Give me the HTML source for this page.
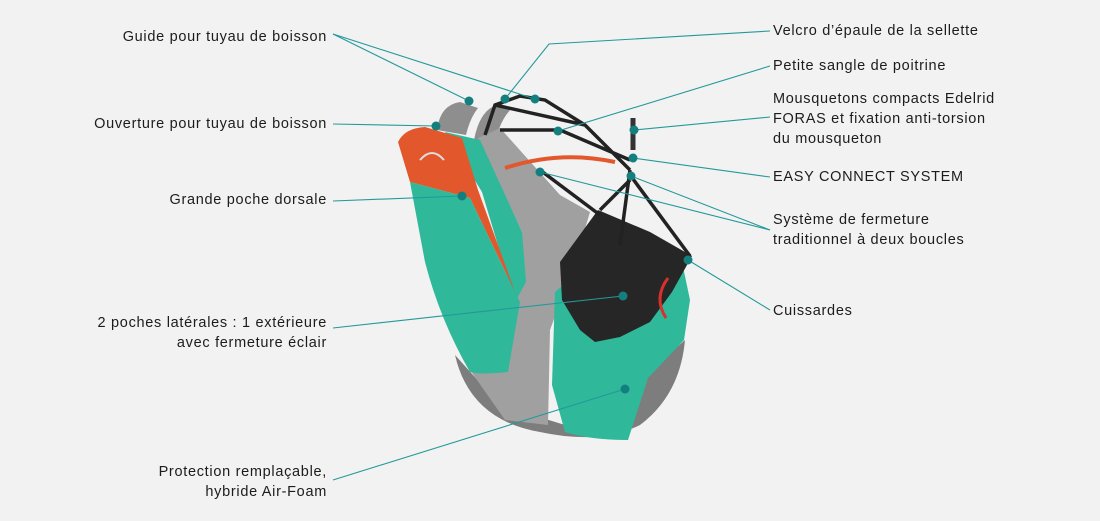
<!DOCTYPE html>
<html><head><meta charset="utf-8"><style>
html,body{margin:0;padding:0;background:#f2f2f2;}
#c{position:relative;width:1100px;height:521px;overflow:hidden;background:#f2f2f2;font-family:"Liberation Sans",sans-serif;font-size:14.5px;letter-spacing:0.7px;color:#1c1c1c;}
.l{position:absolute;line-height:20px;white-space:nowrap;}
.r{text-align:right;right:773px;}
.lt{left:773px;}
svg{position:absolute;left:0;top:0;}
</style></head><body><div id="c">
<svg width="1100" height="521" viewBox="0 0 1100 521">
<!-- shoulder straps -->
<path d="M437,130 Q440,105 460,102 L478,108 Q470,118 466,135 Z" fill="#8e8e8e"/>
<path d="M474,140 Q480,108 500,104 L512,108 Q500,120 496,140 Z" fill="#8e8e8e"/>
<!-- lower grey -->
<path d="M455,355 Q470,420 540,432 Q600,445 640,425 Q680,395 685,340 L640,380 Q620,420 565,425 L500,405 Z" fill="#7d7d7d"/>
<polygon points="478,138 500,128 560,195 590,212 575,262 550,330 548,425 505,420 470,370 510,300 522,232" fill="#a0a0a0"/>
<path d="M555,292 L590,262 612,285 682,262 690,300 684,340 648,378 628,440 Q590,440 565,432 L552,385 Z" fill="#2fb89a"/>
<polygon points="445,132 480,140 522,232 526,282 515,302 482,192" fill="#2fb89a"/>
<path d="M398,142 Q405,128 425,127 L462,138 478,190 515,292 470,198 410,182 Z" fill="#e2572c"/>
<path d="M410,182 L470,198 515,292 520,302 508,372 Q480,375 470,372 Q440,320 425,262 Z" fill="#2fb89a"/>
<polygon points="560,262 598,210 650,232 692,256 672,292 650,322 620,337 595,342 580,330 562,300" fill="#262626"/>
<path d="M668,278 q-15,20 -2,40" stroke="#d8302c" stroke-width="3" fill="none"/>
<path d="M485,135 L495,105 520,96 545,100 585,125 630,170 M495,105 L585,125 M500,130 L560,130 630,160 M540,170 L600,215 M630,170 L620,245 M630,175 L690,256 M600,210 L630,180" stroke="#222" stroke-width="3.5" fill="none"/>
<path d="M505,168 Q560,150 615,162" stroke="#e2572c" stroke-width="4" fill="none"/>
<path d="M633,118 L633,150" stroke="#333" stroke-width="5"/>
<path d="M420,160 q12,-14 24,0" stroke="#ddd" stroke-width="2" fill="none"/>
<!-- connectors -->
<g stroke="#23999a" stroke-width="1.1" fill="none">
<line x1="333" y1="34" x2="469" y2="101"/>
<line x1="333" y1="34" x2="535" y2="99"/>
<polyline points="770,31 549,44 505,99"/>
<line x1="770" y1="66" x2="558" y2="131"/>
<line x1="770" y1="117" x2="634" y2="130"/>
<line x1="770" y1="177" x2="633" y2="158"/>
<line x1="770" y1="230" x2="631" y2="176"/>
<line x1="770" y1="230" x2="540" y2="172"/>
<line x1="770" y1="310" x2="688" y2="260"/>
<line x1="333" y1="124" x2="436" y2="126"/>
<line x1="333" y1="201" x2="462" y2="196"/>
<line x1="333" y1="328" x2="623" y2="296"/>
<line x1="333" y1="480" x2="625" y2="389"/>
</g>
<g fill="#13807f">
<circle cx="469" cy="101" r="4.5"/><circle cx="505" cy="99" r="4.5"/><circle cx="535" cy="99" r="4.5"/>
<circle cx="558" cy="131" r="4.5"/><circle cx="634" cy="130" r="4.5"/><circle cx="633" cy="158" r="4.5"/>
<circle cx="631" cy="176" r="4.5"/><circle cx="540" cy="172" r="4.5"/><circle cx="462" cy="196" r="4.5"/>
<circle cx="436" cy="126" r="4.5"/><circle cx="623" cy="296" r="4.5"/><circle cx="688" cy="260" r="4.5"/>
<circle cx="625" cy="389" r="4.5"/>
</g>
</svg>
<div class="l r" style="top:27px">Guide pour tuyau de boisson</div>
<div class="l r" style="top:114px">Ouverture pour tuyau de boisson</div>
<div class="l r" style="top:190px">Grande poche dorsale</div>
<div class="l r" style="top:313px">2 poches latérales : 1 extérieure<br>avec fermeture éclair</div>
<div class="l r" style="top:462px">Protection remplaçable,<br>hybride Air-Foam</div>
<div class="l lt" style="top:21px">Velcro d’épaule de la sellette</div>
<div class="l lt" style="top:56px">Petite sangle de poitrine</div>
<div class="l lt" style="top:89px">Mousquetons compacts Edelrid<br>FORAS et fixation anti-torsion<br>du mousqueton</div>
<div class="l lt" style="top:167px">EASY CONNECT SYSTEM</div>
<div class="l lt" style="top:210px">Système de fermeture<br>traditionnel à deux boucles</div>
<div class="l lt" style="top:301px">Cuissardes</div>
</div></body></html>
